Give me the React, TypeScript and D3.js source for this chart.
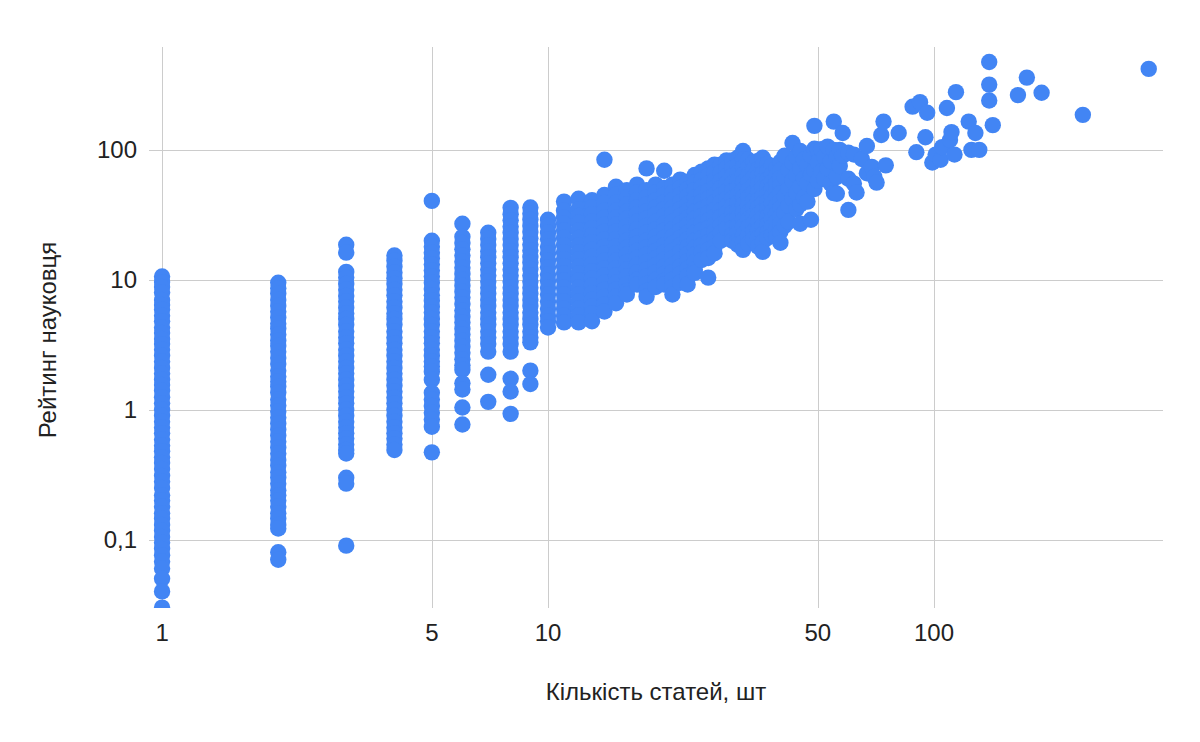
import { useEffect, useRef } from 'react'
import * as d3 from 'd3'

const W = 1200, H = 742

// x = кількість статей (1..9 — окремі стовпчики)
const columnCounts = [1, 2, 3, 4, 5, 6, 7, 8, 9]
const columnRatings = [
  [10.6, 9.6, 8.8, 8.0, 7.0, 6.4, 5.9, 5.3, 4.8, 4.3, 3.9, 3.5, 3.2, 2.9, 2.6, 2.35, 2.1, 1.9, 1.7, 1.55, 1.4, 1.25, 1.12, 1.0, 0.9, 0.81, 0.73, 0.66, 0.59, 0.53, 0.48, 0.43, 0.39, 0.35, 0.31, 0.28, 0.25, 0.22, 0.2, 0.18, 0.16, 0.145, 0.13, 0.117, 0.105, 0.095, 0.085, 0.076, 0.068, 0.06, 0.05, 0.04, 0.03, 0.027],
  [9.5, 8.6, 7.8, 7.0, 6.3, 5.7, 5.1, 4.6, 4.2, 3.8, 3.4, 3.1, 2.8, 2.5, 2.25, 2.0, 1.8, 1.65, 1.5, 1.35, 1.2, 1.08, 0.97, 0.87, 0.78, 0.7, 0.63, 0.57, 0.51, 0.46, 0.41, 0.37, 0.33, 0.3, 0.27, 0.24, 0.22, 0.2, 0.18, 0.16, 0.145, 0.13, 0.122, 0.08, 0.07],
  [18.6, 16.2, 11.5, 10.4, 9.3, 8.4, 7.5, 6.8, 6.1, 5.5, 5.0, 4.5, 4.0, 3.6, 3.25, 2.9, 2.6, 2.35, 2.1, 1.9, 1.7, 1.53, 1.38, 1.24, 1.12, 1.0, 0.9, 0.81, 0.73, 0.66, 0.6, 0.54, 0.49, 0.46, 0.3, 0.27, 0.09],
  [15.4, 14.0, 12.6, 11.4, 10.3, 9.3, 8.4, 7.6, 6.8, 6.1, 5.5, 5.0, 4.5, 4.0, 3.6, 3.25, 2.9, 2.6, 2.35, 2.1, 1.9, 1.7, 1.53, 1.38, 1.24, 1.12, 1.0, 0.9, 0.81, 0.73, 0.66, 0.6, 0.54, 0.49],
  [40.5, 20, 18, 16.2, 14.6, 13.1, 11.8, 10.6, 9.5, 8.5, 7.6, 6.9, 6.2, 5.6, 5.0, 4.5, 4.0, 3.6, 3.25, 2.9, 2.6, 2.35, 2.15, 1.96, 1.7, 1.35, 1.2, 1.07, 0.95, 0.84, 0.74, 0.47],
  [27, 21.4, 19.2, 17.2, 15.4, 13.8, 12.4, 11.1, 10, 9, 8.1, 7.3, 6.5, 5.8, 5.2, 4.7, 4.2, 3.8, 3.4, 3.05, 2.75, 2.45, 2.2, 2.03, 1.6, 1.43, 1.04, 0.77],
  [23, 20.6, 18.5, 16.6, 14.9, 13.4, 12, 10.8, 9.7, 8.7, 7.8, 7, 6.3, 5.6, 5, 4.5, 4, 3.6, 3.2, 2.8, 1.86, 1.15],
  [35.8, 32, 28.7, 25.7, 23, 20.6, 18.5, 16.6, 14.9, 13.4, 12, 10.8, 9.7, 8.7, 7.8, 7, 6.3, 5.6, 5, 4.5, 4, 3.6, 3.2, 2.8, 1.73, 1.38, 0.93],
  [36, 32.3, 29, 26, 23.3, 20.9, 18.7, 16.8, 15, 13.5, 12.1, 10.8, 9.7, 8.7, 7.8, 7, 6.3, 5.6, 5, 4.5, 4, 3.6, 3.3, 2.0, 1.58],
]

// x = 10..40 — щільна хмара
const cloudCounts = [10, 11, 12, 13, 14, 15, 16, 17, 18, 19, 20, 21, 22, 23, 24, 25, 26, 27, 28, 29, 30, 31, 32, 33, 34, 35, 36, 37, 38, 39, 40]
const cloudRatings = [
  [29, 26, 23, 20.5, 18, 16, 14, 12.5, 11, 9.8, 8.7, 7.7, 6.8, 6, 5.3, 4.8, 4.3],
  [40, 34, 30, 27, 24, 21, 18.5, 16.3, 14.4, 12.7, 11.2, 9.9, 8.7, 7.7, 6.8, 6, 5.3, 4.7],
  [42, 35, 31, 27.5, 24, 21, 18.5, 16.3, 14.4, 12.7, 11.2, 9.9, 8.7, 7.7, 6.8, 6, 5.3, 4.7],
  [41, 36, 32, 28, 25, 22, 19.5, 17, 15, 13.2, 11.6, 10.2, 9, 7.9, 7, 6.2, 5.5, 4.8],
  [84, 45, 39, 34, 30, 26.5, 23.5, 20.5, 18, 16, 14, 12.3, 10.8, 9.5, 8.4, 7.4, 6.5, 5.7],
  [52, 45, 39, 34, 30, 26.5, 23.5, 20.5, 18, 16, 14, 12.3, 10.8, 9.5, 8.4, 7.4, 6.6],
  [49, 43, 38, 33.5, 29.5, 26, 23, 20, 17.7, 15.6, 13.7, 12, 10.6, 9.3, 8.2, 7.7],
  [54, 47, 41, 36, 32, 28, 24.5, 21.5, 19, 16.7, 14.7, 13, 11.4, 10, 9.2],
  [72, 49, 43, 38, 33.5, 29.5, 26, 23, 20, 17.7, 15.6, 13.7, 12, 10.6, 9.3, 8.2, 7.4],
  [54, 47, 41, 36, 32, 28, 24.5, 21.5, 19, 16.7, 14.7, 13, 11.4, 10, 8.8],
  [69, 51, 45, 39.5, 35, 31, 27, 24, 21, 18.5, 16.3, 14.3, 12.6, 11.1, 9.8, 9.2],
  [54, 47, 41, 36, 32, 28, 24.5, 21.5, 19, 16.7, 14.7, 13, 11.4, 10, 8.8, 7.7],
  [59, 51, 45, 39.5, 35, 31, 27, 24, 21, 18.5, 16.3, 14.3, 12.6, 11.1, 9.5],
  [57, 50, 44, 38.5, 34, 30, 26.5, 23, 20.5, 18, 15.8, 13.9, 12.2, 10.7, 9.2],
  [64, 56, 49, 43, 38, 33.5, 29.5, 26, 23, 20, 17.7, 15.6, 13.7, 12, 11.3],
  [68, 59, 52, 46, 40, 35, 31, 27.5, 24, 21, 18.5, 16.3, 14.2],
  [72, 63, 55, 48, 42, 37, 32.5, 28.5, 25, 22, 19.5, 17, 14.7, 10.4],
  [77, 67, 58, 51, 45, 39.5, 34.5, 30.5, 26.5, 23.5, 20.5, 18, 16],
  [77, 67, 58, 51, 45, 39.5, 34.5, 30.5, 26.5, 23, 20],
  [83, 72, 63, 55, 48, 42, 37, 32.5, 28.5, 25],
  [83, 72, 63, 55, 48, 42, 37, 32.5, 28.5, 25, 22, 20],
  [87, 76, 66, 58, 51, 44.5, 39, 34, 30, 26, 23, 20, 18.6],
  [98, 84, 73, 64, 56, 49, 43, 37.5, 33, 29, 25.5, 22, 19.5, 17],
  [84, 73, 64, 56, 49, 43, 37.5, 33, 29, 25.5, 22, 19],
  [80, 70, 61, 53, 46.5, 40.5, 35.5, 31, 27, 23.5, 20.5],
  [82, 71, 62, 54, 47, 41, 36, 31.5, 27.5, 24, 21, 18],
  [87, 76, 66, 58, 51, 44.5, 39, 34, 30, 26, 22.5, 19.5, 16.4],
  [78, 68, 59, 52, 45.5, 40, 35, 30.5, 26.5, 23, 21],
  [75, 65, 57, 50, 44, 38.5, 33.5, 29, 25.5, 22],
  [72, 63, 55, 48, 42, 37, 32, 28, 24.5, 21.5],
  [81, 70, 61, 53, 46.5, 40.5, 35.5, 31, 27, 23.5, 19.3],
]

// x > 40 — окремі точки [статей, рейтинг]
const sparsePoints: [number, number][] = [
  [41, 90], [41, 62], [41, 44], [41, 33], [41, 26],
  [42, 70], [42, 50], [42, 37], [42, 28],
  [43, 113], [43, 80], [43, 58], [43, 42],
  [44, 88], [44, 64], [44, 47], [44, 35],
  [45, 98], [45, 72], [45, 52], [45, 38], [45, 27],
  [46, 84], [46, 60], [46, 43],
  [47, 76], [47, 55], [47, 40],
  [48, 90], [48, 65], [48, 29],
  [49, 153], [49, 102], [49, 70], [49, 50],
  [50, 100], [50, 80], [50, 58],
  [51, 101], [51, 68],
  [52, 88], [52, 60],
  [53, 106], [53, 72],
  [54, 82], [54, 55],
  [55, 165], [55, 100], [55, 46.5],
  [56, 88], [56, 62], [56, 46],
  [57, 100], [57, 75],
  [58, 135], [58, 90],
  [60, 95], [60, 60], [60, 34.5],
  [62, 92], [62, 55], [63, 47],
  [65, 85], [67, 107], [67, 66], [69, 74], [70, 62], [71, 56],
  [73, 130], [74, 165], [75, 76], [81, 135],
  [88, 215], [92, 233], [96, 193],
  [90, 96], [95, 125], [99, 80], [101, 92], [104, 84], [105, 105],
  [108, 210], [110, 119], [111, 137], [113, 92], [114, 278],
  [123, 165], [128, 135], [125, 100], [131, 100],
  [139, 475], [139, 318], [139, 240], [142, 155],
  [165, 264], [174, 360], [190, 275], [243, 186], [360, 420],
]

const xTicks = [1, 5, 10, 50, 100]
const yTicks = [0.1, 1, 10, 100]

export default function App() {
  const ref = useRef<SVGSVGElement>(null)

  useEffect(() => {
    const svg = d3.select(ref.current!)
    svg.selectAll('*').remove()

    const left = 149, right = 1163, top = 47, bottom = 608
    const x = d3.scaleLog().domain([0.925, 392]).range([left, right])
    const y = d3.scaleLog().domain([0.0298, 619]).range([bottom, top])
    const font = '"Liberation Sans", Arial, sans-serif'
    const fmt = (d: number) => String(d).replace('.', ',')
    const crisp = (v: number) => Math.round(v) + 0.5

    const points: [number, number][] = []
    columnCounts.forEach((c, i) => columnRatings[i].forEach(r => points.push([c, r])))
    cloudCounts.forEach((c, i) => cloudRatings[i].forEach(r => points.push([c, r])))
    sparsePoints.forEach(p => points.push(p))

    svg.append('rect').attr('width', W).attr('height', H).attr('fill', '#fff')

    svg.append('defs').append('clipPath').attr('id', 'plot')
      .append('rect').attr('x', left).attr('y', top)
      .attr('width', right - left).attr('height', bottom - top)

    // gridlines
    const grid = svg.append('g').attr('stroke', '#cccccc').attr('stroke-width', 1)
    xTicks.forEach(t => {
      grid.append('line').attr('x1', crisp(x(t))).attr('x2', crisp(x(t))).attr('y1', top).attr('y2', bottom)
    })
    yTicks.forEach(t => {
      grid.append('line').attr('x1', left).attr('x2', right).attr('y1', crisp(y(t))).attr('y2', crisp(y(t)))
    })

    // tick labels
    svg.append('g').selectAll('text').data(xTicks).join('text')
      .attr('x', d => x(d)).attr('y', 641)
      .attr('text-anchor', 'middle').attr('font-family', font).attr('font-size', 24).attr('fill', '#222')
      .text(fmt)
    svg.append('g').selectAll('text').data(yTicks).join('text')
      .attr('x', 137).attr('y', d => y(d) + 8.5)
      .attr('text-anchor', 'end').attr('font-family', font).attr('font-size', 24).attr('fill', '#222')
      .text(fmt)

    // axis titles
    svg.append('text').attr('x', (left + right) / 2).attr('y', 700)
      .attr('text-anchor', 'middle').attr('font-family', font).attr('font-size', 24).attr('fill', '#222')
      .text('Кількість статей, шт')
    svg.append('text').attr('transform', `translate(56, 340) rotate(-90)`)
      .attr('text-anchor', 'middle').attr('font-family', font).attr('font-size', 24).attr('fill', '#222')
      .text('Рейтинг науковця')

    // points
    svg.append('g').attr('clip-path', 'url(#plot)')
      .selectAll('circle').data(points).join('circle')
      .attr('cx', d => x(d[0])).attr('cy', d => y(d[1])).attr('r', 8.2)
      .attr('fill', '#4285f4')
  }, [])

  return <svg ref={ref} width={W} height={H} style={{ position: 'absolute', left: 0, top: 0 }} />
}
